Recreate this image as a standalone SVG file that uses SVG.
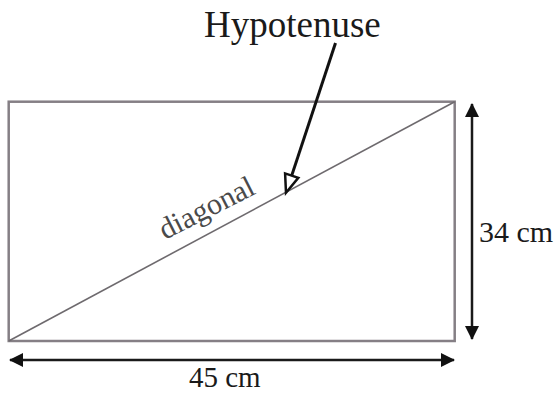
<svg xmlns="http://www.w3.org/2000/svg" width="558" height="394" viewBox="0 0 558 394">
<defs>
<style>
.lbl{font-family:"Liberation Serif","Times New Roman",serif;fill:#1a1a1a}
.rect{fill:none;stroke:#857f85;stroke-width:2.5}
.diag{stroke:#6e6a6e;stroke-width:1.6}
.dim{stroke:#1a1a1a;stroke-width:2.5;fill:none}
</style>
<marker id="ah" viewBox="0 0 14 14" refX="13" refY="7" markerWidth="14" markerHeight="14" markerUnits="userSpaceOnUse" orient="auto-start-reverse">
<path d="M0,0 L14,7 L0,14 Z" fill="#111"/>
</marker>
</defs>
<rect width="558" height="394" fill="#fff"/>
<g id="rectangle">
<rect class="rect" x="8.7" y="101.7" width="446" height="239.3"/>
</g>
<g id="connectors">
<line class="diag" x1="8.7" y1="341" x2="454.7" y2="101.7"/>
<line class="dim" x1="472" y1="104" x2="472" y2="339" marker-start="url(#ah)" marker-end="url(#ah)"/>
<line class="dim" x1="10" y1="360" x2="454" y2="360" marker-start="url(#ah)" marker-end="url(#ah)"/>
<line stroke="#111" stroke-width="3" x1="335.5" y1="43" x2="291.7" y2="175.6"/>
<polygon points="286,192.7 285.1,173.4 298.3,177.8" fill="none" stroke="#111" stroke-width="2.5" stroke-linejoin="miter"/>
</g>
<g id="labels">
<text class="lbl" x="204" y="37" font-size="37">Hypotenuse</text>
<text class="lbl" x="165" y="240" font-size="30" style="fill:#4a4a4a" transform="rotate(-27 165 240)">diagonal</text>
<text class="lbl" x="479" y="242" font-size="30">34 cm</text>
<text class="lbl" x="189" y="387" font-size="29">45 cm</text>
</g>
</svg>
